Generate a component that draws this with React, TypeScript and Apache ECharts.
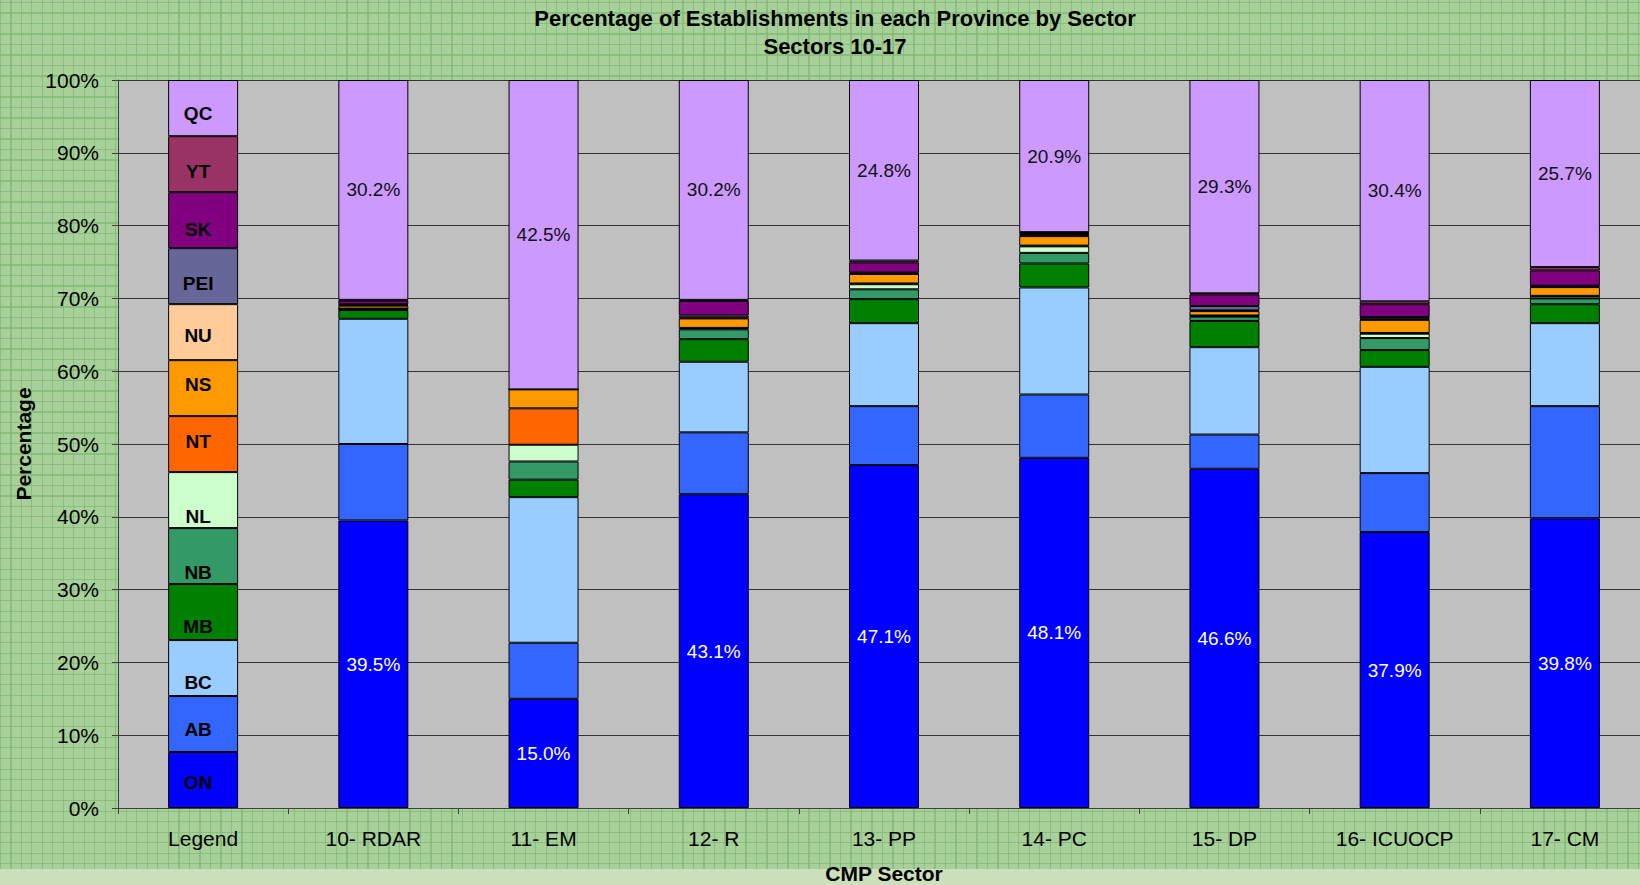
import React, { useEffect, useRef } from "react";
import * as echarts from "echarts";

const TITLE = "Percentage of Establishments in each Province by Sector";
const SUBTITLE = "Sectors 10-17";
const CATEGORIES = ["Legend", "10- RDAR", "11- EM", "12- R", "13- PP", "14- PC", "15- DP", "16- ICUOCP", "17- CM"];
const PROVINCES = ["ON", "AB", "BC", "MB", "NB", "NL", "NT", "NS", "NU", "PEI", "SK", "YT", "QC"];
const Y_TICKS = [0, 10, 20, 30, 40, 50, 60, 70, 80, 90, 100];

// Legend column: each province gets an equal slice
const LEGEND_VALUES = [7.69, 7.69, 7.69, 7.69, 7.69, 7.69, 7.69, 7.69, 7.69, 7.69, 7.69, 7.69, 7.72];

// Percentages for sectors 10..17 (bottom to top of each stack)
const ON = [39.5, 15.0, 43.1, 47.1, 48.1, 46.6, 37.9, 39.8];
const AB = [10.5, 7.7, 8.5, 8.1, 8.7, 4.7, 8.1, 15.4];
const BC = [17.2, 20.0, 9.7, 11.4, 14.7, 12.0, 14.6, 11.4];
const MB = [1.2, 2.4, 3.1, 3.3, 3.3, 3.6, 2.3, 2.6];
const NB = [0.1, 2.5, 1.35, 1.35, 1.45, 0.6, 1.65, 0.8];
const NL = [0.05, 2.3, 0.15, 0.7, 0.9, 0.1, 0.6, 0.3];
const NT = [0.05, 5.0, 0.05, 0.1, 0.1, 0.05, 0.1, 0.05];
const NS = [0.4, 2.6, 1.3, 1.3, 1.3, 0.6, 1.8, 1.2];
const NU = [0.1, 0, 0.1, 0.1, 0.1, 0.1, 0.1, 0.1];
const PEI = [0.1, 0, 0.3, 0.1, 0.2, 0.6, 0.3, 0.1];
const SK = [0.5, 0, 2.0, 1.4, 0.15, 1.6, 1.75, 2.1];
const YT = [0.1, 0, 0.15, 0.25, 0.1, 0.15, 0.4, 0.45];
const QC = [30.2, 42.5, 30.2, 24.8, 20.9, 29.3, 30.4, 25.7];

const SECTOR_VALUES: Record<string, number[]> = { ON, AB, BC, MB, NB, NL, NT, NS, NU, PEI, SK, YT, QC };

// styles
const COLORS: Record<string, string> = {
  ON: "#0000FF", AB: "#3366FF", BC: "#99CCFF", MB: "#008000", NB: "#339966", NL: "#CCFFCC",
  NT: "#FF6600", NS: "#FF9900", NU: "#FFCC99", PEI: "#666699", SK: "#800080", YT: "#993366", QC: "#CC99FF",
};
const LEGEND_LABEL_DY: Record<string, number> = {
  ON: 2, AB: 5, BC: 14, MB: 14, NB: 16, NL: 16, NT: -3, NS: -4, NU: 3, PEI: 7, SK: 9, YT: 7, QC: 5,
};
const FONT = "'Liberation Sans', Arial, Helvetica, sans-serif";

export default function App() {
  const ref = useRef<HTMLDivElement>(null);
  useEffect(() => {
    if (!ref.current) return;
    const chart = echarts.init(ref.current, null, { renderer: "svg" });
    const series = PROVINCES.map((p, pi) => ({
      name: p,
      type: "bar",
      stack: "total",
      barWidth: 70,
      itemStyle: { color: COLORS[p], borderColor: "#000", borderWidth: 1 },
      label: {
        show: false,
        position: "inside",
        fontFamily: FONT,
        fontSize: 19,
        formatter: (params: any) =>
          params.dataIndex === 0 ? params.seriesName : `${Number(params.value).toFixed(1)}%`,
      },
      data: [
        {
          value: LEGEND_VALUES[pi],
          label: {
            show: true,
            color: "#000",
            fontWeight: "bold",
            fontSize: 19,
            offset: [-5, LEGEND_LABEL_DY[p]],
          },
        },
        ...SECTOR_VALUES[p].map((v) => ({
          value: v,
          label:
            p === "ON" || p === "QC"
              ? { show: true, color: p === "ON" ? "#ffffff" : "#111111" }
              : { show: false },
        })),
      ],
    }));

    chart.setOption({
      animation: false,
      backgroundColor: "transparent",
      textStyle: { fontFamily: FONT },
      title: {
        text: TITLE,
        subtext: SUBTITLE,
        left: 835,
        textAlign: "center",
        top: 7,
        padding: 0,
        itemGap: 6,
        textStyle: { fontFamily: FONT, fontSize: 22, fontWeight: "bold", color: "#000" },
        subtextStyle: { fontFamily: FONT, fontSize: 22, fontWeight: "bold", color: "#000" },
      },
      grid: {
        left: 118,
        top: 80,
        right: -10,
        bottom: 885 - 808,
        outerBoundsMode: "none",
        containLabel: false,
        show: true,
        backgroundColor: "#C0C0C0",
        borderWidth: 0,
      },
      xAxis: {
        type: "category",
        data: CATEGORIES,
        boundaryGap: true,
        name: "CMP Sector",
        nameLocation: "middle",
        nameGap: 55,
        nameTextStyle: { fontFamily: FONT, fontSize: 21, fontWeight: "bold", color: "#000" },
        axisLine: { show: true, lineStyle: { color: "#404040", width: 1 } },
        axisTick: { show: true, alignWithLabel: false, interval: 0, length: 6, lineStyle: { color: "#404040" } },
        axisLabel: { fontFamily: FONT, fontSize: 21, color: "#000", margin: 20, interval: 0 },
        z: 5,
      },
      yAxis: {
        type: "value",
        min: Y_TICKS[0],
        max: Y_TICKS[Y_TICKS.length - 1],
        interval: 10,
        name: "Percentage",
        nameLocation: "middle",
        nameRotate: 90,
        nameGap: 84,
        nameTextStyle: { fontFamily: FONT, fontSize: 21, fontWeight: "bold", color: "#000" },
        axisLine: { show: true, lineStyle: { color: "#404040", width: 1 } },
        axisTick: { show: true, length: 6, lineStyle: { color: "#404040" } },
        axisLabel: { fontFamily: FONT, fontSize: 21, color: "#000", margin: 19, formatter: "{value}%" },
        splitLine: { show: true, lineStyle: { color: "#333333", width: 1 } },
      },
      series,
    });
    return () => chart.dispose();
  }, []);

  const bg =
    "linear-gradient(#cde0bc, #cde0bc) 0 869px / 100% 16px no-repeat, " +
    "repeating-linear-gradient(90deg, rgba(130,185,115,0.75) 0 1px, transparent 1px 10.5px), " +
    "repeating-linear-gradient(0deg, rgba(130,185,115,0.75) 0 1px, transparent 1px 10.5px), " +
    "#a8d09a";

  return (
    <div
      ref={ref}
      style={{ position: "fixed", left: 0, top: 0, width: 1640, height: 885, background: bg }}
    />
  );
}
